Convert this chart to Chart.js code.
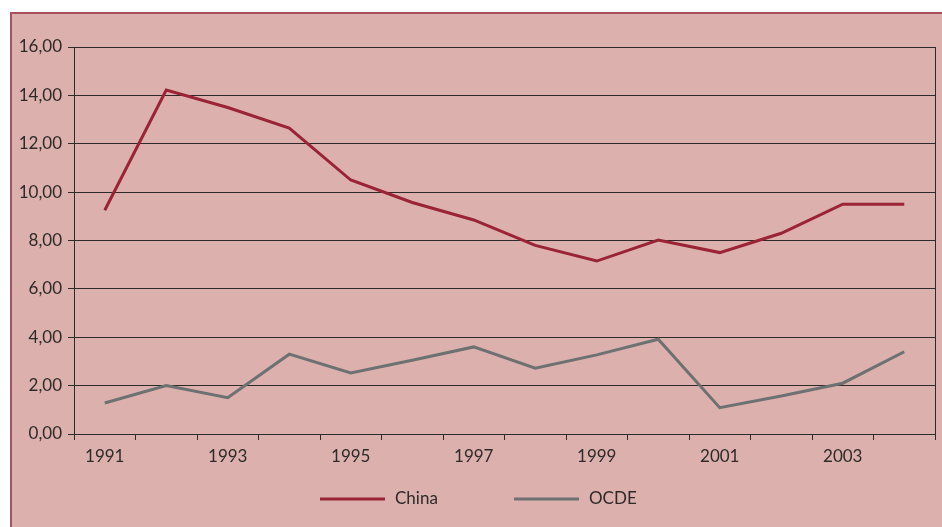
<!DOCTYPE html>
<html>
<head>
<meta charset="utf-8">
<script src="https://cdn.jsdelivr.net/npm/chart.js@4/dist/chart.umd.min.js"></script>
<style>
  body { margin: 0; background: #fff; }
  #box {
    position: absolute; left: 10px; top: 12px; width: 940px; height: 530px;
    background: #dcb0ac; border-left: 2px solid #a8505e; border-top: 2px solid #a8505e;
  }
  #c { position: absolute; left: 0; top: 0; }
</style>
</head>
<body>
<div id="box"></div>
<canvas id="c" width="942" height="527"></canvas>
<script>
const years = ['1991','1992','1993','1994','1995','1996','1997','1998','1999','2000','2001','2002','2003','2004'];
const china = [9.25, 14.22, 13.5, 12.65, 10.5, 9.57, 8.85, 7.8, 7.15, 8.02, 7.5, 8.3, 9.5, 9.5];
const ocde  = [1.28, 2.0, 1.5, 3.3, 2.52, 3.05, 3.6, 2.72, 3.27, 3.92, 1.09, 1.57, 2.1, 3.4];
const yTicks = [0, 2, 4, 6, 8, 10, 12, 14, 16];

const ink = '#2e2a2a';
const font = { family: 'Lato', size: 17 };

// legend drawn by hand so the two items sit far apart like the original
const legendPlugin = {
  id: 'bottomLegend',
  afterDraw(chart) {
    const ctx = chart.ctx;
    const starts = [320, 514];
    const y = 499;
    ctx.save();
    chart.data.datasets.forEach((ds, i) => {
      ctx.strokeStyle = ds.borderColor;
      ctx.lineWidth = 3;
      ctx.beginPath();
      ctx.moveTo(starts[i], y);
      ctx.lineTo(starts[i] + 65, y);
      ctx.stroke();
      ctx.fillStyle = ink;
      ctx.font = '17px Lato';
      ctx.textBaseline = 'middle';
      ctx.fillText(ds.label, starts[i] + 75, y);
    });
    ctx.restore();
  }
};

new Chart(document.getElementById('c'), {
  type: 'line',
  data: {
    labels: years,
    datasets: [
      { label: 'China', data: china, borderColor: '#9b2336', borderWidth: 3, pointRadius: 0, tension: 0 },
      { label: 'OCDE', data: ocde, borderColor: '#6d7171', borderWidth: 3, pointRadius: 0, tension: 0 }
    ]
  },
  options: {
    responsive: false,
    animation: false,
    devicePixelRatio: 1,
    layout: { padding: { left: 0, right: 0, top: 47, bottom: 53 } },
    plugins: { legend: { display: false }, tooltip: { enabled: false } },
    scales: {
      x: {
        offset: true,
        grid: { offset: true, drawOnChartArea: false, tickLength: 6, color: ink },
        border: { display: true, color: ink },
        ticks: {
          autoSkip: false, maxRotation: 0, color: ink, font: font, padding: 6,
          callback: (v, i) => (i % 2 === 0 ? years[i] : '')
        },
        afterFit: s => { s.height = 40; }
      },
      y: {
        min: 0, max: 16,
        afterBuildTicks: s => { s.ticks = yTicks.map(v => ({ value: v })); },
        grid: { color: ink, tickLength: 6 },
        border: { display: true, color: ink },
        ticks: { color: ink, font: font, padding: 6, callback: v => v.toFixed(2).replace('.', ',') },
        afterFit: s => { s.width = 74; }
      },
      y2: {
        position: 'right',
        grid: { display: false },
        border: { display: true, color: ink },
        ticks: { display: false },
        afterFit: s => { s.width = 7; }
      }
    }
  },
  plugins: [legendPlugin]
});
</script>
</body>
</html>
